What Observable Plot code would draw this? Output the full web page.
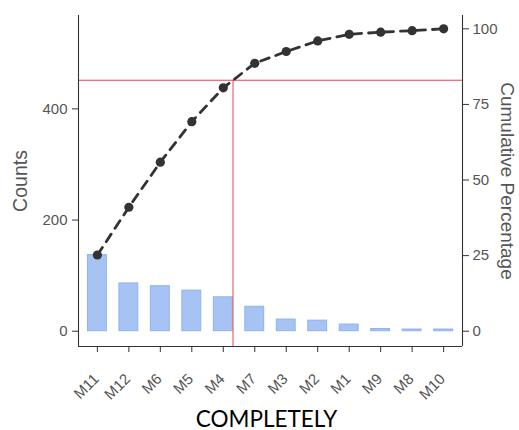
<!DOCTYPE html>
<html>
<head>
<meta charset="utf-8">
<script src="https://cdn.jsdelivr.net/npm/d3@7"></script>
<script src="https://cdn.jsdelivr.net/npm/@observablehq/plot@0.6"></script>
<style>
  html, body { margin: 0; padding: 0; background: #fff; }
  g[aria-label$="tick label"], g[aria-label$="tick label"] text { font-size: 15px !important; }
</style>
</head>
<body>
<div id="chart"></div>
<script>
const categories = ["M11","M12","M6","M5","M4","M7","M3","M2","M1","M9","M8","M10"];
const counts = [137, 86, 81, 73, 61, 44, 21, 19, 12, 4, 3, 3];
const cumPct = [25.2, 41.0, 55.9, 69.3, 80.5, 88.6, 92.5, 96.0, 98.2, 98.9, 99.4, 100];
const thresholdPct = 83;
const leftTicks = [0, 200, 400];
const rightTicks = [0, 25, 50, 75, 100];

const N = d3.sum(counts);
const data = categories.map((c, k) => ({cat: c, i: k + 1, count: counts[k], cum: cumPct[k], cumCount: cumPct[k] * N / 100}));
const xDomain = [0.4, categories.length + 0.6];
const yDomain = [-27.5, 568];
const thrCount = thresholdPct * N / 100;
// x where cumulative curve crosses threshold
let xCross = 1;
for (let k = 1; k < data.length; k++) {
  if (data[k - 1].cum <= thresholdPct && data[k].cum >= thresholdPct) {
    xCross = data[k - 1].i + (thresholdPct - data[k - 1].cum) / (data[k].cum - data[k - 1].cum);
    break;
  }
}

const axisColor = "#333";
const textColor = "#555";

const chart = Plot.plot({
  width: 519,
  height: 430,
  marginLeft: 78,
  marginRight: 57,
  marginTop: 15,
  marginBottom: 84,
  style: {fontFamily: "Liberation Sans, Arial, sans-serif", fontSize: "15px", color: textColor, background: "#fff"},
  x: {domain: xDomain, axis: null},
  y: {domain: yDomain, axis: null},
  marks: [
    Plot.rectY(data, {x1: d => d.i - 0.3, x2: d => d.i + 0.3, y1: 0, y2: "count", fill: "#a7c3f3", stroke: "#8db3f0", strokeWidth: 1}),
    Plot.ruleY([thrCount], {stroke: "#f0424a", strokeWidth: 1}),
    Plot.ruleX([xCross], {y1: yDomain[0], y2: thrCount, stroke: "#f0424a", strokeWidth: 1}),
    Plot.line(data, {x: "i", y: "cumCount", stroke: "#333", strokeWidth: 2.8, strokeDasharray: "9,7"}),
    Plot.dot(data, {x: "i", y: "cumCount", r: 4.6, fill: "#333", stroke: "none"}),
    Plot.ruleX([xDomain[0], xDomain[1]], {stroke: axisColor, strokeWidth: 1.1}),
    Plot.ruleY([yDomain[0]], {stroke: axisColor, strokeWidth: 1.1}),
    Plot.axisY({ticks: leftTicks, tickSize: 6, tickPadding: 5, label: null, stroke: axisColor, fill: textColor}),
    Plot.axisY({anchor: "right", ticks: rightTicks.map(p => p * N / 100), tickFormat: v => Math.round(v * 100 / N), tickSize: 6, tickPadding: 4, label: null, stroke: axisColor, fill: textColor}),
    Plot.axisX({ticks: data.map(d => d.i), tickSize: 6, label: null, text: null, stroke: axisColor}),
    Plot.axisX({ticks: data.map(d => d.i), tickFormat: v => categories[v - 1], tickRotate: -45, tickSize: 0, tickPadding: 6, dy: 24, dx: -1, label: null, fill: textColor}),
    Plot.text(["Counts"], {frameAnchor: "left", dx: -58, rotate: -90, textAnchor: "middle", fontSize: 19.5, fill: textColor}),
    Plot.text(["Cumulative Percentage"], {frameAnchor: "right", dx: 45, rotate: 90, textAnchor: "middle", fontSize: 19, fill: textColor}),
    Plot.text(["COMPLETELY"], {frameAnchor: "bottom", textAnchor: "middle", dx: -4, dy: 80, fontSize: 22.5, fontFamily: "Lato, Open Sans, sans-serif", fill: "#000"})
  ]
});
document.getElementById("chart").appendChild(chart);
</script>
</body>
</html>
